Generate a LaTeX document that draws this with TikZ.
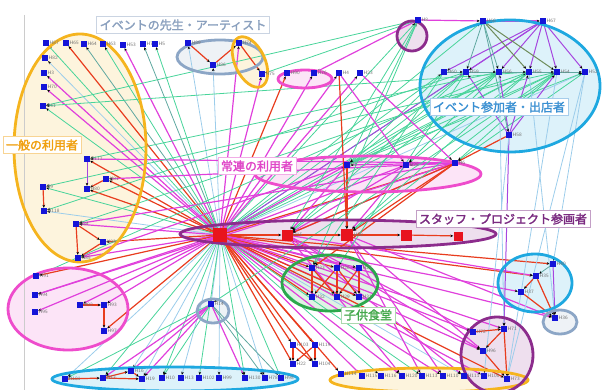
\documentclass[tikz,border=0pt]{standalone}
\usepackage{fontspec}
\newfontfamily\jpfont[AutoFakeBold=2.2]{Noto Sans CJK JP}
\usetikzlibrary{arrows.meta}
\pgfdeclarelayer{fills}
\pgfdeclarelayer{edges}
\pgfsetlayers{fills,edges,main}
% node and edge colours
\definecolor{nblue}{HTML}{1414D8}
\definecolor{nred}{HTML}{E8141E}
\definecolor{cmag}{HTML}{E040DC}
\definecolor{cred}{HTML}{E83C1E}
\definecolor{cvio}{HTML}{A646E0}
\definecolor{cmint}{HTML}{48D49A}
\definecolor{csky}{HTML}{9CCDEB}
\definecolor{cteal}{HTML}{5FA8A0}
\definecolor{cdkg}{HTML}{6E8C5A}
% group colours
\definecolor{gorange}{HTML}{F5B41E}
\definecolor{gsteel}{HTML}{8CA6C6}
\definecolor{gpink}{HTML}{EE4CCC}
\definecolor{gpurple}{HTML}{8C2C8C}
\definecolor{gblue}{HTML}{1EA8E0}
\definecolor{ggreen}{HTML}{2CA84C}
% tag colours
\definecolor{tteach}{HTML}{8AA0BE}
\definecolor{tpart}{HTML}{3A90D2}
\definecolor{tgen}{HTML}{F0A010}
\definecolor{treg}{HTML}{E048C8}
\definecolor{tstaff}{HTML}{7A2A80}
\definecolor{tkid}{HTML}{44A84C}
\tikzset{
  blk/.style={-{Stealth[length=3pt,width=2.6pt,black]}},
  emag/.style={draw=cmag, line width=1.2pt, blk},
  ered/.style={draw=cred, line width=1.2pt, blk},
  evio/.style={draw=cvio, line width=1pt, blk},
  emint/.style={draw=cmint, line width=.8pt, blk},
  esky/.style={draw=csky, line width=.8pt, blk},
  eteal/.style={draw=cteal, line width=.8pt, blk},
  edkg/.style={draw=cdkg, line width=1pt, blk},
  lb/.style={font=\sffamily\fontsize{5}{5.5}\selectfont, text=black!55, inner sep=.3pt},
  nd/.style={fill=nblue, minimum size=6pt, inner sep=0pt, label={[lb]right:#1}},
  rs/.style={fill=nred, minimum size=#1, inner sep=0pt},
  tag/.style={draw=#1!45, fill=white, text=#1, line width=.9pt, inner xsep=3pt, inner ysep=2.5pt,
    font=\jpfont\bfseries\fontsize{12}{13}\selectfont}
}
\begin{document}
\begin{tikzpicture}[x=1pt, y=-1pt]
\useasboundingbox (0,0) rectangle (602,390);
\draw[black!20, line width=.5pt] (24,15) -- (24,390);

%	groups
\def\groups{80/148/66/114/0/gorange, 220/57/43/17/0/gsteel, 250/62/15/27/25/gorange,
  305/79/27/9/0/gpink, 412/36/15/15/0/gpurple, 510/86/90/66/0/gblue,
  368/174/113/18/0/gpink, 338/234/158/14/0/gpurple, 330/283/48/28/0/ggreen,
  68/309/60/41/0/gpink, 213/311/16/12/0/gsteel, 175/379/123/12/0/gblue,
  429/380/99/12/0/gorange, 535/283/37/29/0/gblue, 560/322/17/12/0/gsteel,
  497/355/36/38/0/gpurple}
\begin{pgfonlayer}{fills}
\foreach \cx/\cy/\rx/\ry/\rot/\col in \groups
  \fill[\col!15, rotate around={\rot:(\cx,\cy)}] (\cx,\cy) ellipse ({\rx} and {\ry});
\end{pgfonlayer}
\foreach \cx/\cy/\rx/\ry/\rot/\col in \groups
  \draw[\col, line width=2.8pt, rotate around={\rot:(\cx,\cy)}] (\cx,\cy) ellipse ({\rx} and {\ry});

%	persons
\foreach \n/\x/\y in {87/46/43, 65/66/43, 64/84/44, 63/103/44, 53/123/45, 7/143/44, 5/155/44,
  82/45/58, 3/44/73, 70/44/87, 41/43/106,
  117/87/159, 81/106/179, 80/87/189, 9/43/187, 118/44/211, 84/76/224, 83/103/242, 85/78/258,
  89/188/43, 86/213/65, 74/239/43, 75/262/74,
  90/287/73, 76/314/73, 4/339/73, 23/360/73,
  8/418/20, 66/483/21, 67/543/21, 60/444/72, 59/466/72, 56/499/72, 55/529/72, 54/557/72, 52/585/72, 58/509/135,
  2/347/165, 28/406/165, 6/455/163,
  33/312/268, 26/337/268, 27/359/268, 32/312/297, 29/337/297, 31/359/297,
  91/36/276, 94/35/295, 95/35/312, 92/80/305, 93/104/305, 97/104/331,
  14/211/304,
  101/65/379, 17/103/378, 16/131/371, 19/142/379, 10/162/378, 13/181/378, 102/199/378, 99/219/378,
  130/245/378, 78/265/378, 98/281/378,
  103/293/345, 119/315/345, 22/293/364, 104/315/364,
  114/341/374, 115/362/376, 116/381/376, 120/402/376, 113/422/376, 110/443/376, 111/464/376, 100/484/376,
  40/553/264, 35/536/276, 37/521/292, 36/555/318,
  72/473/332, 71/504/329, 96/483/351, 73/507/379}
  \node[nd=H\n] (h\n) at (\x,\y) {};

%	staff
\node[rs=14pt] (h1) at (220,235) {};
\node[rs=11pt, label={[lb]right:H15}] (h15) at (287,235) {};
\node[rs=12pt, label={[lb]right:H30}] (h30) at (347,235) {};
\node[rs=11pt] (h12) at (406,235) {};
\node[rs=9pt] (h21) at (458,236) {};

%	ties
\begin{pgfonlayer}{edges}
\foreach \t/\c in {87/mint, 65/red, 64/teal, 63/mint, 53/mag, 7/teal, 5/mint, 82/sky, 3/mag, 70/mag,
  41/mint, 117/red, 81/red, 80/red, 9/mint, 118/sky, 84/mag, 83/red, 85/mag, 89/sky, 86/sky,
  74/mag, 75/mag, 90/red, 76/mag, 4/mag, 23/mag, 8/mint, 66/mint, 60/mint, 59/mint, 56/mint,
  55/mint, 54/mint, 52/sky, 67/vio, 2/mag, 28/mag, 6/red, 33/red, 32/red, 29/mint,
  91/red, 94/mag, 95/mag, 92/mag, 93/mag, 97/red, 14/sky, 101/sky, 17/mint, 16/sky, 19/sky,
  10/mint, 13/sky, 102/mint, 99/sky, 130/mint, 78/sky, 98/mint, 103/red, 119/red, 22/red,
  104/red, 114/red, 115/mag, 116/mint, 120/mag, 113/mint, 110/mag, 111/sky, 100/mag,
  40/red, 35/red, 37/mag, 36/mag, 72/mag, 71/mag, 96/mag, 73/red, 15/red, 26/red, 27/mag, 31/red}
  \draw[e\c] (h1) -- (h\t);
\foreach \s/\t/\c in {15/6/mag, 15/72/mag, 15/111/mag, 15/35/mag, 15/120/mag, 15/96/mag,
  30/96/mag, 30/113/mag, 30/36/mag, 30/110/mag, 6/84/mag, 6/30/red, 6/33/red, 6/28/mag, 6/2/mag,
  6/117/mag, 6/81/mag, 6/94/mag, 6/15/red, 28/15/mag, 28/30/mag, 2/85/mag, 2/15/mag,
  2/56/mint, 2/55/mint, 2/54/mint, 2/52/mint, 2/8/mint, 2/30/red, 59/2/mint, 60/2/mint,
  56/28/mint, 55/28/mint, 54/6/mint, 52/6/mint, 59/15/mint, 56/15/mint, 55/30/mint, 54/30/mint,
  60/33/mint, 59/26/mint, 8/33/mint, 8/15/mint, 56/117/mint, 55/41/mint, 54/9/mint,
  8/76/mag, 8/75/mint, 8/41/mint, 8/66/mag,
  58/6/red, 58/59/vio, 58/56/vio, 58/55/vio, 58/54/vio, 58/71/vio,
  67/60/vio, 67/59/vio, 67/56/vio, 67/55/vio, 67/54/vio, 67/52/vio,
  66/67/mag, 66/59/teal, 66/56/teal, 66/55/dkg, 66/54/dkg, 66/58/teal,
  59/56/teal, 56/55/teal, 55/54/teal, 54/52/teal, 60/59/teal,
  54/73/sky, 52/40/sky, 55/36/sky, 56/71/sky, 52/73/sky, 58/100/sky,
  56/91/mint, 55/84/mint, 54/14/mint, 59/118/mint,
  14/17/mag, 14/16/mag, 14/19/mag, 14/10/mint, 14/78/teal, 14/98/teal, 14/130/mag, 14/101/mint,
  4/30/red, 4/28/mag, 23/6/mag,
  117/80/vio, 81/80/red, 9/118/red, 84/83/red, 83/85/red, 84/85/red,
  89/86/red, 86/74/red, 74/75/red,
  15/30/red, 30/12/red, 12/21/red,
  33/32/red, 33/29/red, 26/32/red, 26/31/red, 27/29/red, 27/31/red, 26/29/red,
  92/93/red, 93/97/red, 101/17/red, 17/16/red, 16/19/red, 17/19/red,
  103/22/red, 103/104/red, 119/104/red, 119/22/red,
  40/35/teal, 35/37/red, 37/36/red, 35/36/red, 40/36/vio,
  72/71/red, 71/96/red, 96/73/red, 71/73/red}
  \draw[e\c] (h\s) -- (h\t);
\end{pgfonlayer}

%	group names
\node[tag=tteach] (tTeach) at (183,25) {イベントの先生・アーティスト};
\node[tag=tpart] (tPart) at (499,107) {イベント参加者・出店者};
\node[tag=tgen] (tGen) at (42,145) {一般の利用者};
\node[tag=treg] (tReg) at (257,166) {常連の利用者};
\node[tag=tstaff] (tStaff) at (503,219) {スタッフ・プロジェクト参画者};
\node[tag=tkid] (tKid) at (368,315) {子供食堂};
\end{tikzpicture}
\end{document}
